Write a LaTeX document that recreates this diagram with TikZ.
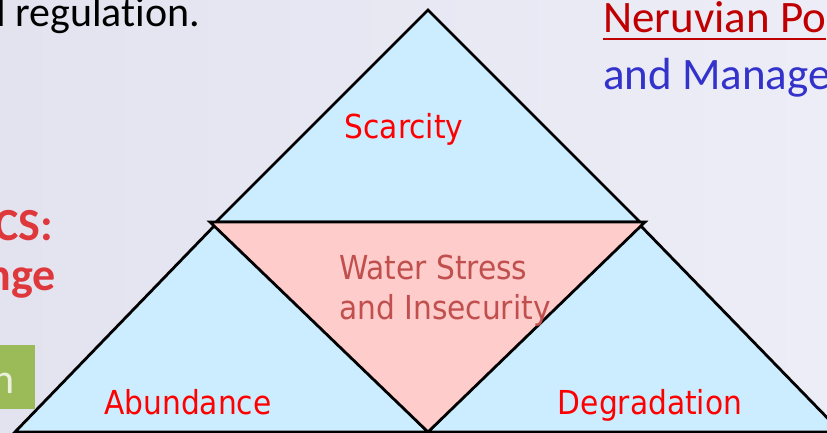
\documentclass[tikz,border=0pt]{standalone}
\usepackage{fontspec}
\setmainfont{Carlito}[Ligatures = NoCommon]
\newfontfamily\tahoma{DejaVu Sans Condensed}
\usetikzlibrary{positioning}
\definecolor{slidebg}{RGB}{227,227,240}
\definecolor{slidebgr}{RGB}{237,237,247}
\definecolor{triblue}{RGB}{204,236,255}
\definecolor{tripink}{RGB}{255,204,204}
\definecolor{stressred}{RGB}{192,80,77}
\definecolor{titlered}{RGB}{192,0,0}
\definecolor{mgblue}{RGB}{51,51,204}
\definecolor{headred}{RGB}{222,56,60}
\definecolor{boxgreen}{RGB}{155,187,89}
\definecolor{boxtext}{RGB}{235,241,222}
\tikzset{tri/.style = {draw, line width = 2.8, line join = miter, fill = triblue}}
\tikzset{lbl/.style = {font = \tahoma\fontsize{33}{40}\selectfont, text = red, inner sep = 0}}
\tikzset{slide/.style = {font = \fontsize{42}{50}\selectfont, inner sep = 0}}
\tikzset{head/.style = {font = \bfseries\fontsize{46}{50}\selectfont, text = headred, inner sep = 0}}

\begin{document}
\begin{tikzpicture}[x = 1pt, y = -1pt]
  \useasboundingbox (0, 0) rectangle (827, 433);
  \clip (0, 0) rectangle (827, 433);
  \shade [left color = slidebg, right color = slidebgr] (0, 0) rectangle (827, 433);

  \node [slide, anchor = base west] (reg) at (-4, 27) {l regulation.};
  \node [slide, font = \fontsize{45}{50}\selectfont, text = titlered, anchor = base west] (neruvian) at (603, 33) {Neruvian Po};
  \draw [titlered, line width = 2.5] ([yshift = -6pt]neruvian.base west) -- ([yshift = -6pt]neruvian.base east);
  \node [slide, font = \fontsize{45}{50}\selectfont, text = mgblue, anchor = base west] (manage) at (603, 90) {and Manage};
  \node [head, anchor = base east] (cs) at (53, 240) {CS:};
  \node [head, anchor = base east] (nge) at (56, 290) {nge};
  \fill [boxgreen] (0, 345) rectangle (35, 409);
  \node [slide, text = boxtext, anchor = base east] (boxn) at (15, 393) {n};

  \filldraw [tri] (428, 10) -- (216, 222) -- (640, 222) -- cycle;
  \filldraw [tri] (218, 222) -- (15, 432) -- (428, 432) -- cycle;
  \filldraw [tri] (637, 222) -- (428, 432) -- (841, 432) -- cycle;
  \filldraw [tri, fill = tripink] (210, 222) -- (645, 222) -- (428, 432) -- cycle;

  \node [lbl, anchor = base] (scarcity) at (404, 139) {Scarcity};
  \node [lbl, text = stressred, align = left, anchor = west] (stress) at (339, 291) {Water Stress\\and Insecurity};
  \node [lbl, anchor = base] (abundance) at (188, 414) {Abundance};
  \node [lbl, anchor = base] (degradation) at (650, 414) {Degradation};
\end{tikzpicture}
\end{document}
